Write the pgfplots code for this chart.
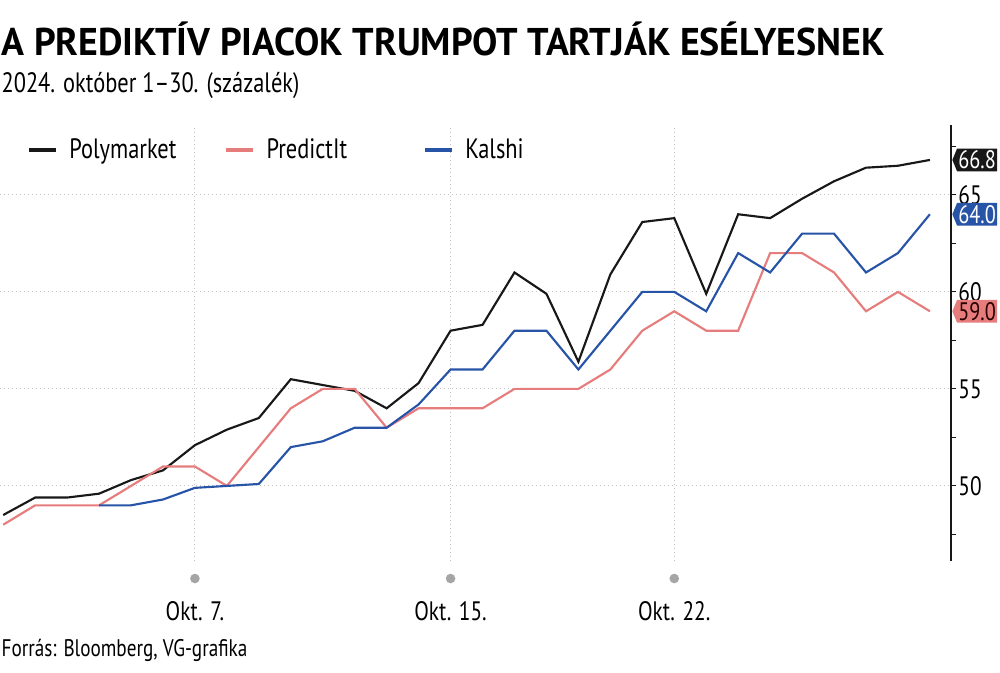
\documentclass[border=0pt]{standalone}
\usepackage{fontspec}
\setmainfont{PT Sans}[FakeStretch=0.8]
\newfontfamily\titlefont{PT Sans}[FakeStretch=0.98]
\usepackage{pgfplots}
\usepackage{pgfplotstable}
\pgfplotsset{compat=1.18}
\usetikzlibrary{shapes.symbols}

\definecolor{polyc}{RGB}{24,24,24}
\definecolor{predc}{RGB}{231,124,124}
\definecolor{kalc}{RGB}{40,84,168}
\definecolor{gridc}{RGB}{195,195,195}
\definecolor{dotc}{RGB}{165,165,165}

% napi adatok, okt. 1-30
\pgfplotstableread{
day val
1 48.5
2 49.4
3 49.4
4 49.6
5 50.3
6 50.8
7 52.1
8 52.9
9 53.5
10 55.5
11 55.2
12 54.9
13 54.0
14 55.3
15 58.0
16 58.3
17 61.0
18 59.9
19 56.4
20 60.9
21 63.6
22 63.8
23 59.9
24 64.0
25 63.8
26 64.8
27 65.7
28 66.4
29 66.5
30 66.8
}\polytab

\pgfplotstableread{
day val
1 48
2 49
3 49
4 49
5 50
6 51
7 51
8 50
9 52
10 54
11 55
12 55
13 53
14 54
15 54
16 54
17 55
18 55
19 55
20 56
21 58
22 59
23 58
24 58
25 62
26 62
27 61
28 59
29 60
30 59
}\predtab

\pgfplotstableread{
day val
4 49
5 49
6 49.3
7 49.9
8 50
9 50.1
10 52
11 52.3
12 53
13 53
14 54.2
15 56
16 56
17 58
18 58
19 56
20 58
21 60
22 60
23 59
24 62
25 61
26 63
27 63
28 61
29 62
30 64
}\kaltab

\newcommand{\tickfont}{\fontsize{20}{24}\selectfont}

\begin{document}
\begin{tikzpicture}
\useasboundingbox (0pt,0pt) rectangle (750pt,-504pt);

\node[anchor=base west, inner sep=0pt] at (1pt,-41.25pt)
  {\titlefont\fontsize{29}{34}\selectfont\bfseries A PREDIKTÍV PIACOK TRUMPOT TARTJÁK ESÉLYESNEK};
\node[anchor=base west, inner sep=0pt] at (1pt,-69pt)
  {\fontsize{21}{25}\selectfont 2024. október 1–30. (százalék)};
\node[anchor=base west, inner sep=0pt] at (1pt,-492.5pt)
  {\fontsize{18}{22}\selectfont Forrás: Bloomberg, VG-grafika};

\begin{axis}[
  at={(0pt,-420.75pt)}, anchor=south west,
  scale only axis, width=713.25pt, height=327pt,
  xmin=0.9, xmax=30.66, ymin=46.13, ymax=68.6,
  clip=false,
  axis y line*=right,
  axis x line*=bottom,
  x axis line style={draw=none},
  y axis line style={line width=0.9pt, polyc},
  xtick={7,15,22},
  xticklabels={{\tikz\fill[dotc] (0,0) circle (3.6pt);\\[4pt]Okt. 7.},
               {\tikz\fill[dotc] (0,0) circle (3.6pt);\\[4pt]Okt. 15.},
               {\tikz\fill[dotc] (0,0) circle (3.6pt);\\[4pt]Okt. 22.}},
  xticklabel style={align=center, font=\tickfont, yshift=-2pt},
  xtick style={draw=none},
  ytick={50,55,60,65},
  minor ytick={47.5,52.5,57.5,62.5,67.5},
  tick align=outside,
  major tick length=4pt, minor tick length=4pt,
  ytick style={line width=0.8pt, polyc},
  minor y tick style={line width=0.8pt, polyc},
  yticklabel style={font=\tickfont, xshift=-2pt},
  /pgf/number format/assume math mode=true,
  xmajorgrids, ymajorgrids,
  grid style={gridc, line width=0.8pt, dash pattern=on 1pt off 2pt},
  legend columns=3,
  legend style={at={(axis description cs:0.0284,0.9427)}, anchor=west,
    draw=none, fill=none, inner sep=0pt, font=\fontsize{21}{25}\selectfont,
    nodes={inner sep=0pt},
    /tikz/every odd column/.style={column sep=9pt},
    /tikz/column 2/.style={column sep=36pt},
    /tikz/column 4/.style={column sep=57pt}},
  legend image code/.code={\draw[#1, line width=2.6pt] (0pt,0pt) -- (20pt,0pt);},
]
\addplot[polyc, line width=1.6pt, mark=none] table[x=day, y=val] {\polytab};
\addlegendentry{Polymarket}
\addplot[predc, line width=1.6pt, mark=none] table[x=day, y=val] {\predtab};
\addlegendentry{PredictIt}
\addplot[kalc, line width=1.6pt, mark=none] table[x=day, y=val] {\kaltab};
\addlegendentry{Kalshi}

\node[signal, signal to=west, signal pointer angle=135, fill=polyc, text=white,
  font=\fontsize{19}{22}\selectfont,
  inner xsep=1pt, inner ysep=0.5pt, minimum height=17pt, anchor=west]
  at (axis cs:30.66,66.8) [xshift=0.8pt] {66.8};
\node[signal, signal to=west, signal pointer angle=135, fill=kalc, text=white,
  font=\fontsize{19}{22}\selectfont,
  inner xsep=1pt, inner ysep=0.5pt, minimum height=17pt, anchor=west]
  at (axis cs:30.66,64.0) [xshift=0.8pt] {64.0};
\node[signal, signal to=west, signal pointer angle=135, fill=predc, text=black!85!red,
  font=\fontsize{19}{22}\selectfont,
  inner xsep=1pt, inner ysep=0.5pt, minimum height=17pt, anchor=west]
  at (axis cs:30.66,59.0) [xshift=0.8pt] {59.0};
\end{axis}
\end{tikzpicture}
\end{document}
